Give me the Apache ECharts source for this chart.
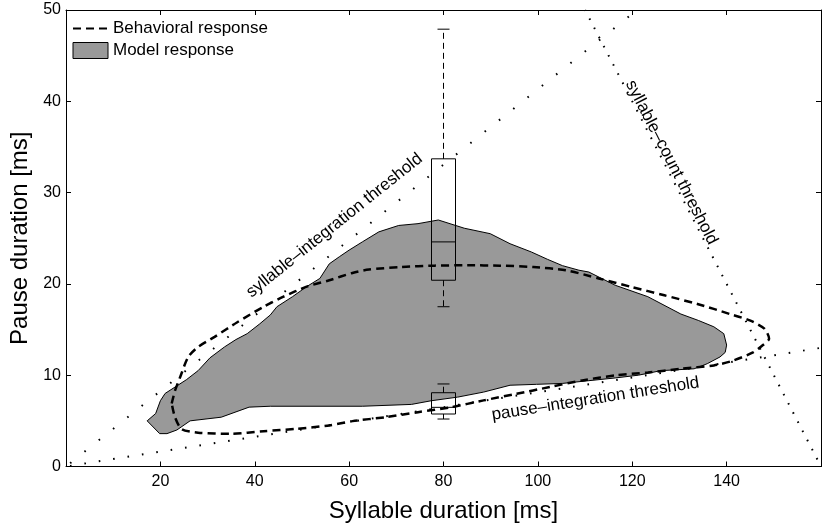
<!DOCTYPE html>
<html>
<head>
<meta charset="utf-8">
<script src="https://cdn.jsdelivr.net/npm/echarts@6/dist/echarts.min.js"></script>
<style>html,body{margin:0;padding:0;background:#fff;}#c{width:824px;height:531px;}</style>
</head>
<body>
<div id="c"></div>
<script>
// ---- axis ranges ----
const xMin = 0, xMax = 160, xStep = 20;
const yMin = 0, yMax = 50, yStep = 10;
const xAxisName = 'Syllable duration [ms]';
const yAxisName = 'Pause duration [ms]';

// ---- model response (gray region outline) ----
const modelX = [17.2,19.0,20.0,21.0,23.1,25.5,28.0,30.5,33.6,36.0,38.4,41.0,43.3,44.7,48.0,51.0,53.8,55.8,58.0,60.0,62.8,66.3,70.5,74.6,78.9,84.4,89.9,94.1,98.6,102.0,105.2,108.7,110.8,116.4,123.3,130.3,134.0,137.3,139.4,140.0,139.7,138.6,135.9,133.1,126.1,121.3,116.4,110.8,105.2,99.7,94.1,88.5,83.0,77.4,73.2,62.8,43.3,38.8,32.9,26.3,23.5,21.4,19.85];
const modelY = [5.0,5.8,7.2,8.0,8.7,9.5,10.5,11.9,13.1,13.9,14.55,15.6,16.6,17.5,18.6,19.7,20.6,22.2,23.0,23.7,24.6,25.7,26.4,26.6,27.0,26.1,25.5,24.4,23.5,22.7,22.0,21.5,21.3,19.85,18.6,16.7,16.0,15.3,14.55,13.3,12.5,12.0,11.26,10.7,10.5,10.0,9.7,9.4,9.1,9.0,8.9,8.15,7.6,7.2,6.8,6.6,6.6,6.5,5.4,5.0,4.0,3.6,3.6];

// ---- behavioral response (dashed closed contour) ----
const behavX = [22.4,23.1,24.2,25.9,28.0,31.5,36.3,41.9,46.1,51.0,55.8,60.7,64.2,71.1,78.1,85.1,92.0,99.0,105.9,112.9,119.9,126.8,133.8,140.7,144.9,148.0,149.0,147.7,145.6,141.4,137.3,130.3,123.3,116.4,109.4,102.5,95.5,88.5,81.6,74.6,67.7,60.7,55.8,48.9,41.9,35.0,28.0,24.5,23.1,22.4];
const behavY = [6.9,8.3,9.8,12.0,13.1,14.2,15.8,17.5,18.6,19.7,20.4,21.2,21.57,21.85,22.0,22.04,22.0,21.85,21.5,20.6,19.66,18.75,17.8,16.7,16.0,15.1,14.0,13.3,12.5,11.6,11.07,10.7,10.3,9.98,9.43,8.7,7.97,7.24,6.5,5.95,5.4,4.97,4.5,4.13,3.87,3.58,3.7,4.1,5.4,6.9];

// ---- threshold lines (endpoints) ----
const sylIntX = [0, 121], sylIntY = [0, 50];
const pauIntX = [0, 160], pauIntY = [0, 13];
const sylCntX = [110, 160], sylCntY = [50, 0];

// ---- threshold labels ----
const labelTexts = ['syllable\u2013integration threshold', 'pause\u2013integration threshold', 'syllable\u2013count threshold'];
const labelX = [56.9, 112.2, 128.3];
const labelY = [26.4, 7.4, 33.3];

// ---- box plots: [x, whiskerLow, q1, median, q3, whiskerHigh] ----
const boxX      = [80, 80];
const boxLow    = [17.5, 5.2];
const boxQ1     = [20.4, 5.75];
const boxMedian = [24.6, 6.48];
const boxQ3     = [33.7, 8.08];
const boxHigh   = [47.9, 9.04];

const FONT = '"Liberation Sans", Arial, Helvetica, sans-serif';
const pairs = (xs, ys) => xs.map((x, i) => [x, ys[i]]);

const lines = [
  {x: sylIntX, y: sylIntY},
  {x: pauIntX, y: pauIntY},
  {x: sylCntX, y: sylCntY}
];

const chart = echarts.init(document.getElementById('c'), null, {renderer: 'canvas'});

const baseX = {
  type: 'value', min: xMin, max: xMax, interval: xStep,
  axisLine: {show: true, onZero: false, lineStyle: {color: '#000', width: 1}},
  axisTick: {show: true, inside: true, length: 5, lineStyle: {color: '#000'}},
  splitLine: {show: false}
};
const baseY = {
  type: 'value', min: yMin, max: yMax, interval: yStep,
  axisLine: {show: true, onZero: false, lineStyle: {color: '#000', width: 1}},
  axisTick: {show: true, inside: true, length: 5, lineStyle: {color: '#000'}},
  splitLine: {show: false}
};

function dotted(period, offset) {
  return {color: '#000', width: 2, type: [1.6, period - 1.6], dashOffset: offset, cap: 'butt'};
}

const option = {
  backgroundColor: '#fff',
  animation: false,
  grid: {left: 59, top: 10, width: 767, height: 456.5, containLabel: false},
  legend: {
    orient: 'vertical', left: 72, top: 20, padding: 0,
    itemWidth: 35, itemHeight: 16, itemGap: 5,
    textStyle: {fontSize: 17, fontFamily: FONT, color: '#000'},
    selectedMode: false,
    data: [
      {name: 'Behavioral response', itemStyle: {opacity: 0}},
      {name: 'Model response', icon: 'rect', itemStyle: {color: '#999999', borderColor: '#000', borderWidth: 1}}
    ]
  },
  xAxis: [
    Object.assign({}, baseX, {
      position: 'bottom',
      name: xAxisName, nameLocation: 'middle', nameGap: 33,
      nameTextStyle: {fontSize: 24, fontFamily: FONT, color: '#000'},
      axisLabel: {fontSize: 16, fontFamily: FONT, color: '#000', margin: 7,
        formatter: v => (v === xMin || v === xMax) ? '' : String(v)}
    }),
    Object.assign({}, baseX, {position: 'top', axisLabel: {show: false}})
  ],
  yAxis: [
    Object.assign({}, baseY, {
      position: 'left',
      name: yAxisName, nameLocation: 'middle', nameGap: 34,
      nameTextStyle: {fontSize: 24, fontFamily: FONT, color: '#000'},
      axisLabel: {fontSize: 16, fontFamily: FONT, color: '#000', margin: 5}
    }),
    Object.assign({}, baseY, {position: 'right', axisLabel: {show: false}})
  ],
  series: [
    {
      name: 'Model response', type: 'custom', xAxisIndex: 0, yAxisIndex: 0,
      itemStyle: {color: '#999999'},
      data: [0],
      renderItem: function (params, api) {
        const pts = modelX.map((x, i) => api.coord([x, modelY[i]]));
        return {type: 'polygon', shape: {points: pts},
          style: {fill: '#999999', stroke: '#000', lineWidth: 1}};
      },
      z: 1
    },
    {
      name: 'sylInt', type: 'line', data: pairs(sylIntX, sylIntY), symbol: 'none',
      lineStyle: dotted(18.3, 13.0), z: 2, silent: true
    },
    {
      name: 'pauInt', type: 'line', data: pairs(pauIntX, pauIntY), symbol: 'none',
      lineStyle: dotted(14.55, 10.5), z: 2, silent: true
    },
    {
      name: 'sylCnt', type: 'line', data: pairs(sylCntX, sylCntY), symbol: 'none',
      lineStyle: dotted(10.31, 0.8), z: 2, silent: true
    },
    {
      name: 'Behavioral response', type: 'line', data: pairs(behavX, behavY),
      symbol: 'none', smooth: 0.25,
      itemStyle: {color: '#000'},
      lineStyle: {color: '#000', width: 2.5, type: [8, 5]},
      z: 3
    },
    {
      name: 'boxes', type: 'custom', silent: true,
      data: boxX.map((x, i) => [x, boxLow[i], boxQ1[i], boxMedian[i], boxQ3[i], boxHigh[i]]),
      renderItem: function (params, api) {
        const x = api.value(0);
        const pLo = api.coord([x, api.value(1)]);
        const pQ1 = api.coord([x, api.value(2)]);
        const pMd = api.coord([x, api.value(3)]);
        const pQ3 = api.coord([x, api.value(4)]);
        const pHi = api.coord([x, api.value(5)]);
        const cx = pQ1[0], hw = 12, cw = 6;
        const solid = {stroke: '#000', lineWidth: 1, fill: null};
        const dash = {stroke: '#000', lineWidth: 1, lineDash: [6, 4]};
        return {type: 'group', children: [
          {type: 'rect', shape: {x: cx - hw, y: pQ3[1], width: 2 * hw, height: pQ1[1] - pQ3[1]}, style: {stroke: '#000', lineWidth: 1, fill: 'none'}},
          {type: 'line', shape: {x1: cx - hw, y1: pMd[1], x2: cx + hw, y2: pMd[1]}, style: solid},
          {type: 'line', shape: {x1: cx, y1: pQ3[1], x2: cx, y2: pHi[1]}, style: dash},
          {type: 'line', shape: {x1: cx, y1: pQ1[1], x2: cx, y2: pLo[1]}, style: dash},
          {type: 'line', shape: {x1: cx - cw, y1: pHi[1], x2: cx + cw, y2: pHi[1]}, style: solid},
          {type: 'line', shape: {x1: cx - cw, y1: pLo[1], x2: cx + cw, y2: pLo[1]}, style: solid}
        ]};
      },
      z: 4
    },
    {
      name: 'labels', type: 'custom', silent: true,
      data: labelTexts.map((t, i) => [labelX[i], labelY[i], i]),
      renderItem: function (params, api) {
        const i = api.value(2);
        const ln = lines[i];
        const a = api.coord([ln.x[0], ln.y[0]]);
        const b = api.coord([ln.x[1], ln.y[1]]);
        const ang = Math.atan2(-(b[1] - a[1]), b[0] - a[0]);
        const p = api.coord([api.value(0), api.value(1)]);
        return {type: 'text', x: p[0], y: p[1], rotation: ang,
          style: {text: labelTexts[i], fontSize: 17, fontFamily: FONT, fill: '#000',
            align: 'center', verticalAlign: 'middle'}};
      },
      z: 5
    }
  ]
};
chart.setOption(option);
</script>
</body>
</html>
